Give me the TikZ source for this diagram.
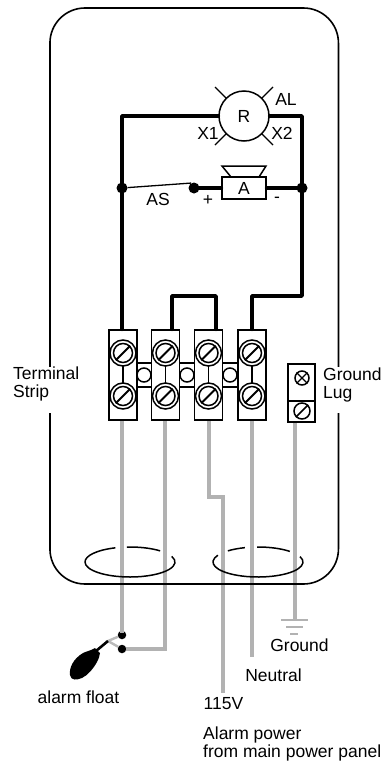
\documentclass[tikz,border=0pt]{standalone}
\usepackage{fontspec}
\setmainfont{Liberation Sans}
\tikzset{
 x=1pt,y=-1pt,
 heavy/.style={line width=3.8pt,line join=round,line cap=round},
 graywire/.style={line width=3.6pt,color=gray!60,line join=miter},
 box/.style={draw,line width=1.5pt,fill=white,inner sep=0pt,minimum width=28pt,minimum height=90pt},
 bridge/.style={draw,line width=1.5pt,fill=white,inner sep=0pt,minimum width=16pt,minimum height=24pt},
 dot/.style={circle,fill=black,inner sep=0pt,minimum size=11pt},
 lbl/.style={inner sep=0pt,font=\fontsize{17.5}{18}\selectfont},
 ring/.style={draw,circle,line width=1.5pt,fill=white,inner sep=0pt,minimum size=7pt},
}
\newcommand{\screw}[3]{%
 \node[circle,draw,line width=1.5pt,fill=white,inner sep=0pt,minimum size=26pt] (#3o) at (#1,#2) {};
 \node[circle,draw,line width=1.5pt,fill=white,inner sep=0pt,minimum size=19pt] (#3) at (#1,#2) {};
 \draw[line width=2pt] (#3.225) -- (#3.45);
}
\begin{document}
\begin{tikzpicture}
\useasboundingbox (0,0) rectangle (385,763);
% gray wires, under everything
\coordinate (w1t) at (122,420); \coordinate (w1b) at (122,633);
\coordinate (w2t) at (165,420); \coordinate (w2c) at (165,649); 
\coordinate (w3t) at (209,420); \coordinate (w3a) at (209,497); \coordinate (w3b) at (223,497); \coordinate (w3e) at (223,693);
\coordinate (w4t) at (252,420); \coordinate (w4e) at (252,657);
\coordinate (w5t) at (295,421); \coordinate (w5e) at (295,620);
\node[dot,minimum size=8.5pt] (f1) at (122,635) {};
\node[dot,minimum size=8.5pt] (f2) at (122,649) {};
\draw[graywire] (w1t) -- (w1b);
\draw[graywire] (w2t) -- (w2c) -- (f2);
\draw[graywire] (w3t) -- (w3a) -- (w3b) -- (w3e);
\draw[graywire] (w4t) -- (w4e);
\draw[graywire] (w5t) -- (w5e);
% enclosure
\node[draw,line width=1.6pt,rounded corners=35pt,inner sep=0pt,minimum width=288.5pt,minimum height=576pt] (encl) at (194.2,296) {};
\fill[white] (45,367) rectangle (55,413);
\fill[white] (333,367) rectangle (343,413);
% ground symbol
\coordinate (g1a) at (281,620); \coordinate (g1b) at (308,620);
\coordinate (g2a) at (286,627); \coordinate (g2b) at (303,627);
\coordinate (g3a) at (290,634); \coordinate (g3b) at (298,634);
\draw[graywire,line width=2.6pt] (g1a) -- (g1b);
\draw[graywire,line width=2.6pt] (g2a) -- (g2b);
\draw[graywire,line width=2.6pt] (g3a) -- (g3b);
% cable glands
\begin{scope}[line width=1.5pt]
\draw (130,562) ++(180:45 and -15) arc[start angle=180,end angle=382,x radius=45,y radius=-15];
\draw (130,562) ++(48:45 and -15) arc[start angle=48,end angle=94,x radius=45,y radius=-15];
\draw (130,562) ++(109:45 and -15) arc[start angle=109,end angle=180,x radius=45,y radius=-15];
\draw (258,562) ++(153:45 and -15) arc[start angle=153,end angle=381,x radius=45,y radius=-15];
\draw (258,562) ++(45:45 and -15) arc[start angle=45,end angle=91,x radius=45,y radius=-15];
\draw (258,562) ++(107:45 and -15) arc[start angle=107,end angle=132,x radius=45,y radius=-15];
\end{scope}
% float
\coordinate (fj) at (108,641);
\draw[line width=2.4pt,gray!55] (f1) -- (fj) -- (f2);
\fill (70,675) .. controls (69,668) and (73,659) .. (83,653) .. controls (87,651) and (90,651) .. (95,648) -- (100,653) .. controls (99,657) and (99,659) .. (97,662) .. controls (93,669) and (88,675) .. (82,678) .. controls (77,680) and (71,681) .. (70,675) -- cycle;
\coordinate (fr) at (96,651);
\draw[line width=2.6pt] (fr) -- (fj);
% terminal boxes
\node[bridge] (b1) at (144,375) {};
\node[bridge] (b2) at (187,375) {};
\node[bridge] (b3) at (230,375) {};
\node[ring,minimum size=14pt] (c1) at (144,375) {};
\node[ring,minimum size=14pt] (c2) at (187,375) {};
\node[ring,minimum size=14pt] (c3) at (230,375) {};
\node[box] (t1) at (123,375) {};
\node[box] (t2) at (165.5,375) {};
\node[box] (t3) at (208.5,375) {};
\node[box] (t4) at (252,375) {};
\foreach \xx/\nn in {123/a,165.5/b,208.5/c,252/d}{
  \draw[line width=1.5pt] (\xx,353) -- (\xx,396);
  \screw{\xx}{353}{s\nn u}
  \screw{\xx}{396}{s\nn l}
}
% ground lug
\node[draw,line width=1.5pt,fill=white,inner sep=0pt,minimum width=27pt,minimum height=37pt] (lug1) at (301.5,382.5) {};
\node[draw,line width=1.5pt,fill=white,inner sep=0pt,minimum width=27pt,minimum height=21pt] (lug2) at (301.5,411.5) {};
\node[circle,draw,line width=1.5pt,inner sep=0pt,minimum size=14pt] (lx) at (302,378) {};
\draw[line width=1.4pt] (lx.45) -- (lx.225) (lx.135) -- (lx.315);
\node[circle,draw,line width=1.5pt,inner sep=0pt,minimum size=16pt] (ls) at (302,411) {};
\draw[line width=1.7pt] (ls.225) -- (ls.45);
% heavy wires
\node[circle,draw,line width=1.5pt,fill=white,inner sep=0pt,minimum size=50pt,font=\fontsize{17.5}{18}\selectfont] (R) at (244,116) {R};
\node[dot] (dl) at (122,188) {};
\node[dot] (dr) at (302,188) {};
\node[dot] (ds) at (194,188) {};
\node[draw,line width=1.5pt,fill=white,inner sep=0pt,minimum width=44pt,minimum height=22pt,font=\fontsize{17.5}{18}\selectfont] (A) at (244,188) {A};
\coordinate (tl) at (122,116);
\coordinate (tr) at (302,116);
\coordinate (jr) at (302,296);
\coordinate (j4) at (252,296);
\coordinate (j2) at (172,296);
\coordinate (j3) at (216,296);
\draw[heavy] (R) -- (tl) -- (tl|-t1.north);
\draw[heavy] (R) -- (tr) -- (jr) -- (j4) -- (j4|-t4.north);
\draw[heavy] (j2|-t2.north) -- (j2) -- (j3) -- (j3|-t3.north);
\draw[heavy] (ds) -- (A);
\draw[heavy] (A) -- (dr);
\draw[line width=1.3pt] (dl) -- (ds.120);
% speaker
\draw[line width=1.5pt] (231,177) -- (222,166) -- (266,166) -- (259,177);
% lamp rays
\coordinate (r1) at (215,87); \coordinate (r2) at (273,87);
\coordinate (r3) at (215,145); \coordinate (r4) at (273,145);
\draw[line width=1.4pt] (r1) -- (R.135);
\draw[line width=1.4pt] (r2) -- (R.45);
\draw[line width=1.4pt] (r3) -- (R.225);
\draw[line width=1.4pt] (r4) -- (R.315);
% labels
\node[lbl] (lAL) at (286,99) {AL};
\node[lbl] (lX1) at (208,133) {X1};
\node[lbl] (lX2) at (282,133) {X2};
\node[lbl] (lAS) at (158,199) {AS};
\node[lbl] (lp) at (208,200) {+};
\node[lbl] (lm) at (277,200) {-};
\node[lbl,align=left,anchor=west] (lts) at (13,384) {Terminal\\Strip};
\node[lbl,align=left,anchor=west] (lgl) at (323,385) {Ground\\Lug};
\node[lbl] (lgr) at (299.5,645) {Ground};
\node[lbl] (lne) at (273.5,675) {Neutral};
\node[lbl] (l115) at (223.5,704) {115V};
\node[lbl] (lfl) at (78.5,697) {alarm float};
\node[lbl,align=left,anchor=west] (lap) at (203,744) {Alarm power\\from main power panel};
\end{tikzpicture}
\end{document}
